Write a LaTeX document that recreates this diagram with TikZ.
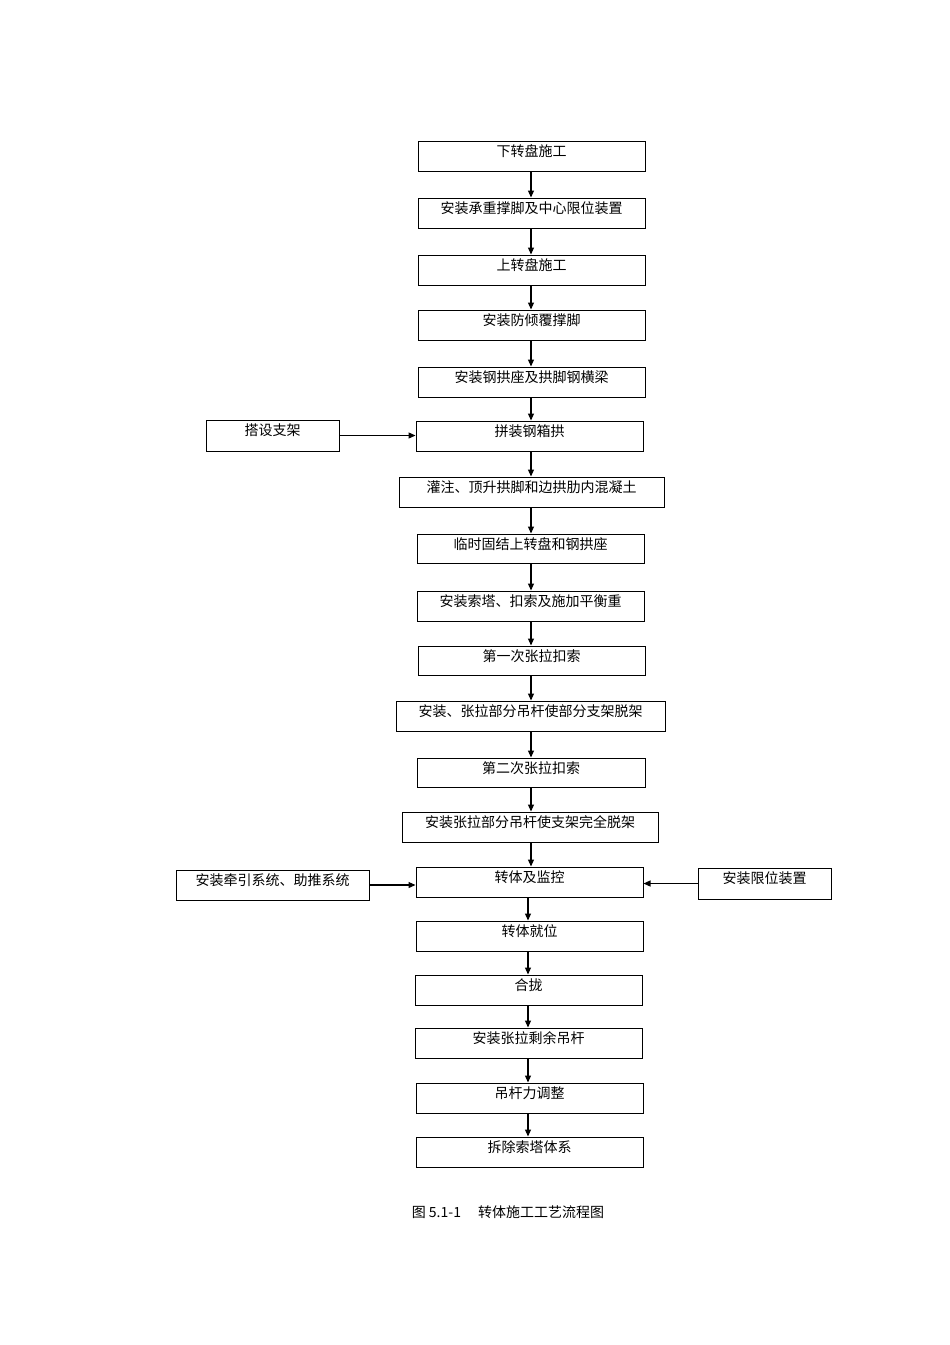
\documentclass[tikz,border=0pt]{standalone}
\usepackage{fontspec}
\setmainfont{Liberation Serif}
\newfontfamily\cjk{Noto Sans CJK SC}
\usetikzlibrary{arrows.meta}
\begin{document}
\begin{tikzpicture}[x=1pt,y=-1pt,
  bx/.style={draw,line width=1pt,inner sep=0pt},
  lb/.style={font=\cjk\fontsize{14}{16}\selectfont,inner sep=0pt},
  ar/.style={line width=1.2pt,-{Triangle[length=7pt,width=6pt]}}]
\useasboundingbox[fill=white] (0,0) rectangle (950,1345);
\newcommand{\B}[6]{%
  \node[bx,minimum width={#4-#2},minimum height={#5-#3}] (#1) at ({(#2+#4)/2},{(#3+#5)/2}) {};
  \node[lb] at ({(#2+#4)/2},{#3+10}) {#6};}
\B{b1}{418}{141}{645}{171}{下转盘施工}
\B{b2}{418}{198}{645}{228}{安装承重撑脚及中心限位装置}
\B{b3}{418}{255}{645}{285}{上转盘施工}
\B{b4}{418}{310}{645}{340}{安装防倾覆撑脚}
\B{b5}{418}{367}{645}{397}{安装钢拱座及拱脚钢横梁}
\B{b6}{416}{421}{643}{451}{拼装钢箱拱}
\B{s1}{206}{420}{339}{451}{搭设支架}
\B{b7}{399}{477}{664}{507}{灌注、顶升拱脚和边拱肋内混凝土}
\B{b8}{417}{534}{644}{563}{临时固结上转盘和钢拱座}
\B{b9}{417}{591}{644}{621}{安装索塔、扣索及施加平衡重}
\B{b10}{418}{646}{645}{675}{第一次张拉扣索}
\B{b11}{396}{701}{665}{731}{安装、张拉部分吊杆使部分支架脱架}
\B{b12}{417}{758}{645}{787}{第二次张拉扣索}
\B{b13}{402}{812}{658}{842}{安装张拉部分吊杆使支架完全脱架}
\B{b14}{416}{867}{643}{897}{转体及监控}
\B{s2}{176}{870}{369}{900}{安装牵引系统、助推系统}
\B{s3}{698}{868}{831}{899}{安装限位装置}
\B{b15}{416}{921}{643}{951}{转体就位}
\B{b16}{415}{975}{642}{1005}{合拢}
\B{b17}{415}{1028}{642}{1058}{安装张拉剩余吊杆}
\B{b18}{416}{1083}{643}{1113}{吊杆力调整}
\B{b19}{416}{1137}{643}{1167}{拆除索塔体系}
\foreach \a/\b/\x in {b1/b2/531,b2/b3/531,b3/b4/531,b4/b5/531,b5/b6/531,b6/b7/531,b7/b8/531,b8/b9/531,b9/b10/531,b10/b11/531,b11/b12/531,b12/b13/531,b13/b14/531,b14/b15/528,b15/b16/528,b16/b17/528,b17/b18/528,b18/b19/528}
  \draw[ar] (\a.south -| \x,0) -- (\b.north -| \x,0);
\draw[ar] (s1.east) -- (b6.west |- s1.east);
\draw[ar] (s2.east) -- (b14.west |- s2.east);
\draw[ar] (s3.west) -- (b14.east |- s3.west);
\node[lb] (cap) at (508,1212) {图 5.1-1\quad\ 转体施工工艺流程图};
\end{tikzpicture}
\end{document}
